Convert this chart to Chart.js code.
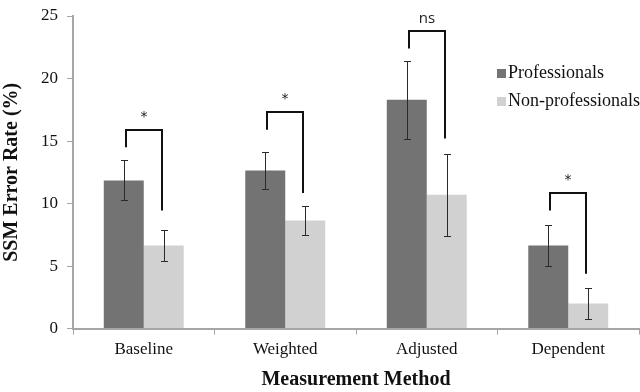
<!DOCTYPE html>
<html>
<head>
<meta charset="utf-8">
<script src="https://cdn.jsdelivr.net/npm/chart.js@4.4.1/dist/chart.umd.min.js"></script>
<style>
  html, body { margin: 0; padding: 0; background: #fff; }
  #wrap { width: 640px; height: 392px; position: relative; }
</style>
</head>
<body>
<div id="wrap"><canvas id="myChart"></canvas></div>
<script>
'use strict';

// data
const categories = ['Baseline', 'Weighted', 'Adjusted', 'Dependent'];
const professionals = [11.85, 12.65, 18.3, 6.65];
const nonProfessionals = [6.65, 8.65, 10.7, 2.0];
const professionalsErr = [1.6, 1.45, 3.1, 1.65];
const nonProfessionalsErr = [1.25, 1.15, 3.3, 1.25];
const yTicks = [0, 5, 10, 15, 20, 25];

// significance brackets (data units)
const sigLabels = ['*', '*', 'ns', '*'];
const bracketTop = [15.9, 17.3, 23.8, 10.85];
const bracketLeftEnd = [14.5, 15.9, 22.4, 9.45];
const bracketRightEnd = [9.45, 10.85, 15.2, 4.38];

const serif = "'Liberation Serif', 'Times New Roman', serif";
const darkGray = '#737373';
const lightGray = '#d0d1d0';
const axisGray = '#a6a6a6';

(function () {
  let ctx = document.getElementById('myChart').getContext('2d');

  let errorBars = {
    id: 'errorBars',
    afterDatasetsDraw(chart) {
      let c = chart.ctx;
      let y = chart.scales.y;
      let errs = [professionalsErr, nonProfessionalsErr];
      c.save();
      c.strokeStyle = '#2a2a2a';
      c.lineWidth = 1;
      chart.data.datasets.forEach((ds, i) => {
        let meta = chart.getDatasetMeta(i);
        meta.data.forEach((bar, j) => {
          let x = Math.round(bar.x) + 0.5;
          let top = Math.round(y.getPixelForValue(ds.data[j] + errs[i][j])) + 0.5;
          let bot = Math.round(y.getPixelForValue(ds.data[j] - errs[i][j])) + 0.5;
          c.beginPath();
          c.moveTo(x, top); c.lineTo(x, bot);
          c.moveTo(x - 3.5, top); c.lineTo(x + 3.5, top);
          c.moveTo(x - 3.5, bot); c.lineTo(x + 3.5, bot);
          c.stroke();
        });
      });

      // brackets
      let m0 = chart.getDatasetMeta(0);
      let m1 = chart.getDatasetMeta(1);
      c.strokeStyle = '#111';
      c.lineWidth = 2;
      c.fillStyle = '#222';
      categories.forEach((cat, j) => {
        let xl = Math.round(m0.data[j].x) + 2;
        let xr = Math.round(m1.data[j].x) - 2;
        let yt = Math.round(y.getPixelForValue(bracketTop[j]));
        c.beginPath();
        c.moveTo(xl, y.getPixelForValue(bracketLeftEnd[j]));
        c.lineTo(xl, yt);
        c.lineTo(xr, yt);
        c.lineTo(xr, y.getPixelForValue(bracketRightEnd[j]));
        c.stroke();
        c.textAlign = 'center';
        c.textBaseline = 'middle';
        if (sigLabels[j] === '*') {
          c.font = "14px 'DejaVu Sans', sans-serif";
          c.fillText('*', (xl + xr) / 2, yt - 13);
        } else {
          c.font = "15px 'Open Sans', sans-serif";
          c.fillText(sigLabels[j], (xl + xr) / 2, yt - 12);
        }
      });

      // legend
      let items = [['Professionals', darkGray], ['Non-professionals', lightGray]];
      c.font = '18px ' + serif;
      c.textAlign = 'left';
      c.textBaseline = 'middle';
      items.forEach((it, k) => {
        let ly = 73 + k * 28;
        c.fillStyle = it[1];
        c.fillRect(497, ly - 4, 9, 9);
        c.fillStyle = '#111';
        c.fillText(it[0], 508, ly);
      });
      c.restore();
    }
  };

  new Chart(ctx, {
    type: 'bar',
    data: {
      labels: categories,
      datasets: [
        { label: 'Professionals', data: professionals, backgroundColor: darkGray },
        { label: 'Non-professionals', data: nonProfessionals, backgroundColor: lightGray }
      ]
    },
    options: {
      responsive: true,
      maintainAspectRatio: false,
      animation: false,
      datasets: { bar: { categoryPercentage: 0.565, barPercentage: 1.0 } },
      layout: { padding: { top: 16, right: 1, left: 0, bottom: 0 } },
      plugins: { legend: { display: false }, tooltip: { enabled: false } },
      scales: {
        x: {
          grid: { drawOnChartArea: false, drawTicks: true, tickLength: 6, color: axisGray, offset: true },
          border: { color: axisGray, width: 2 },
          ticks: { color: '#111', font: { family: serif, size: 17 }, padding: 5 },
          title: { display: true, text: 'Measurement Method', color: '#111',
                   font: { family: serif, size: 20, weight: 'bold' }, padding: { top: 3, bottom: 0 } }
        },
        y: {
          min: 0, max: 25,
          afterBuildTicks: (scale) => { scale.ticks = yTicks.map(v => ({ value: v })); },
          afterFit: (scale) => { scale.width = 73; scale.paddingTop = 0; scale.paddingBottom = 0; },
          grid: { drawOnChartArea: false, drawTicks: true, tickLength: 6, color: axisGray },
          border: { color: axisGray, width: 2 },
          ticks: { color: '#111', font: { family: serif, size: 17 }, padding: 9 },
          title: { display: true, text: 'SSM Error Rate (%)', color: '#111',
                   font: { family: serif, size: 20, weight: 'bold' }, padding: { top: 0, bottom: 0 } }
        }
      }
    },
    plugins: [errorBars]
  });
})();
</script>
</body>
</html>
